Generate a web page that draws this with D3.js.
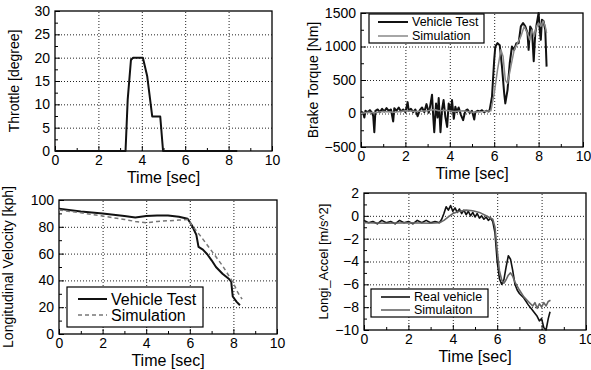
<!DOCTYPE html>
<html>
<head>
<meta charset="utf-8">
<script src="https://cdn.jsdelivr.net/npm/d3@7"></script>
<style>
  body { margin: 0; background: #fff; }
  svg { font-family: "Liberation Sans", Arial, sans-serif; }
</style>
</head>
<body>
<svg id="chart" width="591" height="370"></svg>
<script>
// tick values
const timeTicks = [0, 2, 4, 6, 8, 10];
const throttleTicks = [0, 5, 10, 15, 20, 25, 30];
const brakeTicks = [-500, 0, 500, 1000, 1500];
const velTicks = [0, 20, 40, 60, 80, 100];
const accelTicks = [-10, -8, -6, -4, -2, 0, 2];

// throttle [deg] vs time
const throttle = [[0, 0], [3.25, 0], [3.35, 11], [3.5, 19.5], [3.6, 20], [4.05, 20], [4.25, 16], [4.48, 7.4], [4.85, 7.4], [4.98, 0], [8.4, 0]];

// brake torque [Nm]
const brakeTest = [[0, 30], [0.1, 10], [0.15, -60], [0.2, 40], [0.3, 20], [0.4, 50], [0.5, 10], [0.55, -40], [0.6, -280], [0.65, 40],
  [0.75, 60], [0.85, 20], [0.95, 70], [1.05, 30], [1.15, 80], [1.25, 40], [1.35, 60], [1.45, -120], [1.5, 80], [1.6, 40],
  [1.7, 90], [1.8, 30], [1.9, 60], [2.0, 20], [2.1, 170], [2.15, 40], [2.25, 70], [2.35, 20], [2.45, 60], [2.55, -40],
  [2.65, 50], [2.75, 90], [2.85, 20], [2.95, 140], [3.05, 10], [3.1, 80], [3.2, 280], [3.25, -30], [3.3, -280], [3.38, 150],
  [3.45, -60], [3.5, 230], [3.58, -280], [3.65, 60], [3.72, 200], [3.8, -50], [3.88, -200], [3.95, 150], [4.05, 30], [4.1, 200],
  [4.18, -80], [4.25, 100], [4.32, 20], [4.4, 90], [4.5, -20], [4.6, -100], [4.7, 40], [4.8, 60], [4.9, 10], [5.0, 40],
  [5.1, -90], [5.15, 20], [5.25, 40], [5.35, 30], [5.45, 50], [5.55, 20], [5.65, 40], [5.75, 30], [5.8, 60], [5.9, 250],
  [6.0, 800], [6.05, 1000], [6.15, 1050], [6.25, 1020], [6.35, 700], [6.45, 300], [6.5, 150], [6.6, 350], [6.7, 750], [6.8, 1000],
  [6.9, 950], [7.0, 1050], [7.1, 1050], [7.2, 1300], [7.3, 1350], [7.4, 1300], [7.5, 1200], [7.55, 950], [7.62, 1300], [7.7, 1250],
  [7.78, 780], [7.85, 1200], [7.92, 1350], [8.0, 1500], [8.05, 1250], [8.1, 1100], [8.15, 1400], [8.22, 1380], [8.3, 1250], [8.36, 700]];
const brakeSim = [[0, 0], [0.3, 20], [0.6, 10], [1, 30], [1.5, 20], [2, 40], [2.5, 30], [3, 40], [3.3, 60], [3.5, 40], [3.8, 50],
  [4.2, 30], [4.6, 40], [5, 20], [5.5, 30], [5.85, 40], [6.0, 300], [6.15, 650], [6.3, 950], [6.4, 850], [6.5, 500], [6.6, 450],
  [6.75, 700], [6.9, 950], [7.05, 1050], [7.2, 1150], [7.35, 1300], [7.5, 1200], [7.6, 1100], [7.7, 1250], [7.8, 1150], [7.9, 1300],
  [8.0, 1350], [8.1, 1300], [8.2, 1380], [8.3, 1300], [8.36, 1200]];

// longitudinal velocity [kph]
const velTest = [[0, 93.5], [1, 91.5], [2, 90], [3, 88], [3.5, 87], [4, 88], [4.5, 88.5], [5, 88.5], [5.5, 87.5], [5.9, 86],
  [6.1, 81], [6.3, 74], [6.4, 65], [6.6, 63], [6.8, 59.5], [7.0, 55], [7.2, 50], [7.5, 45], [7.8, 41], [7.9, 39], [7.97, 28],
  [8.15, 24], [8.3, 21.5]];
const velSim = [[0, 92.5], [1, 90.5], [2, 88], [3, 85.5], [3.5, 84], [4, 83], [4.5, 84], [5, 84.5], [5.5, 85], [5.9, 85.5],
  [6.2, 79], [6.5, 73], [7.0, 62], [7.5, 51], [8.0, 38], [8.2, 31], [8.4, 26]];

// longitudinal acceleration [m/s^2]
const accelReal = [[0, -0.4], [0.2, -0.6], [0.4, -0.5], [0.6, -0.7], [0.8, -0.4], [1.0, -0.6], [1.2, -0.5], [1.4, -0.7], [1.6, -0.4],
  [1.8, -0.6], [2.0, -0.5], [2.2, -0.7], [2.4, -0.4], [2.6, -0.6], [2.8, -0.4], [3.0, -0.6], [3.2, -0.5], [3.4, -0.6], [3.5, -0.3],
  [3.6, 0.2], [3.7, 0.8], [3.8, 0.5], [3.9, 0.9], [4.0, 0.4], [4.1, 0.7], [4.2, 0.3], [4.3, 0.6], [4.4, 0.2], [4.5, 0.5],
  [4.6, 0.1], [4.7, 0.4], [4.8, 0.0], [4.9, 0.3], [5.0, -0.1], [5.1, 0.2], [5.2, -0.2], [5.3, 0.0], [5.4, -0.3], [5.5, -0.1],
  [5.6, -0.4], [5.7, -0.2], [5.8, -0.5], [5.9, -1.5], [6.0, -4.0], [6.1, -5.5], [6.2, -6.0], [6.3, -5.6], [6.4, -4.5],
  [6.5, -3.5], [6.6, -3.8], [6.7, -4.8], [6.8, -6.0], [6.9, -6.5], [7.0, -6.8], [7.2, -7.2], [7.4, -7.8], [7.6, -8.3],
  [7.8, -8.8], [7.9, -9.2], [8.0, -9.0], [8.1, -9.8], [8.2, -10], [8.3, -9.0], [8.38, -8.4]];
const accelSim = [[0, -0.6], [1, -0.65], [2, -0.6], [3, -0.65], [3.4, -0.6], [3.6, -0.4], [3.8, -0.1], [4.0, 0.2], [4.3, 0.4],
  [4.6, 0.5], [4.9, 0.45], [5.2, 0.3], [5.5, 0.0], [5.8, -0.3], [5.9, -1.0], [6.0, -3.0], [6.1, -4.8], [6.2, -5.6], [6.3, -5.9],
  [6.4, -5.6], [6.5, -5.2], [6.6, -5.0], [6.7, -5.3], [6.8, -5.8], [7.0, -6.5], [7.2, -7.1], [7.4, -7.5], [7.6, -7.9],
  [7.7, -7.6], [7.8, -8.1], [7.9, -7.7], [8.0, -8.0], [8.1, -7.6], [8.2, -7.9], [8.3, -7.5], [8.4, -7.4]];

const svg = d3.select('#chart');

function panel(cfg) {
  const x = d3.scaleLinear().domain([0, 10]).range([cfg.left, cfg.right]);
  const y = d3.scaleLinear().domain(cfg.yDomain).range([cfg.bottom, cfg.top]);
  const g = svg.append('g');

  // dotted grid, drawn as axes with full-length ticks
  const gridX = d3.axisBottom(x).tickValues(timeTicks.slice(1, -1)).tickSize(-(cfg.bottom - cfg.top)).tickFormat('');
  const gridY = d3.axisLeft(y).tickValues(cfg.yTicks.slice(1, -1)).tickSize(-(cfg.right - cfg.left)).tickFormat('');
  g.append('g').attr('transform', `translate(0,${cfg.bottom})`).call(gridX);
  g.append('g').attr('transform', `translate(${cfg.left},0)`).call(gridY);
  g.selectAll('.domain').remove();
  g.selectAll('.tick line')
    .attr('stroke', '#222')
    .attr('stroke-width', 1)
    .attr('stroke-dasharray', '1,2');

  // axes with inward ticks
  const xAxis = d3.axisBottom(x).tickValues(timeTicks).tickSize(-5).tickPadding(4).tickFormat(d3.format('d'));
  const yAxis = d3.axisLeft(y).tickValues(cfg.yTicks).tickSize(-5).tickPadding(5).tickFormat(d3.format('d'));
  const xMinor = d3.axisBottom(x).tickValues(d3.range(1, 10, 2)).tickSize(-3).tickFormat('');
  const yMinor = d3.axisLeft(y).tickValues(cfg.yMinor).tickSize(-3).tickFormat('');

  [[xAxis, 'b'], [xMinor, 'b'], [yAxis, 'l'], [yMinor, 'l']].forEach(([ax, side]) => {
    const a = g.append('g')
      .attr('transform', side === 'b' ? `translate(0,${cfg.bottom})` : `translate(${cfg.left},0)`)
      .call(ax);
    a.select('.domain').remove();
    a.selectAll('text').style('font-size', '14px').attr('fill', '#000');
    a.selectAll('line').attr('stroke', '#000');
  });

  g.append('rect')
    .attr('x', cfg.left).attr('y', cfg.top)
    .attr('width', cfg.right - cfg.left).attr('height', cfg.bottom - cfg.top)
    .attr('fill', 'none').attr('stroke', '#000').attr('stroke-width', 1.3);

  const line = d3.line().x(d => x(d[0])).y(d => y(d[1]));
  cfg.series.forEach(s => {
    g.append('path').datum(s.data)
      .attr('d', line)
      .attr('fill', 'none')
      .attr('stroke', s.color)
      .attr('stroke-width', s.width)
      .attr('stroke-dasharray', s.dash || null)
      .attr('stroke-linejoin', 'round');
  });

  g.append('text')
    .attr('x', (cfg.left + cfg.right) / 2).attr('y', cfg.bottom + 32)
    .attr('text-anchor', 'middle').style('font-size', '16px')
    .text('Time [sec]');
  g.append('text')
    .attr('transform', `translate(${cfg.ytX},${(cfg.top + cfg.bottom) / 2}) rotate(-90)`)
    .attr('text-anchor', 'middle').attr('dominant-baseline', 'central')
    .style('font-size', cfg.ytSize)
    .text(cfg.yTitle);

  if (cfg.legend) {
    const L = cfg.legend;
    g.append('rect')
      .attr('x', L.x).attr('y', L.y).attr('width', L.w).attr('height', L.h)
      .attr('fill', '#fff').attr('stroke', '#000').attr('stroke-width', 1.2);
    cfg.series.forEach((s, i) => {
      const ly = L.y + L.rows[i];
      g.append('line')
        .attr('x1', L.x + L.lx0).attr('x2', L.x + L.lx1)
        .attr('y1', ly).attr('y2', ly)
        .attr('stroke', s.color).attr('stroke-width', s.width)
        .attr('stroke-dasharray', s.dash || null);
      g.append('text')
        .attr('x', L.x + L.tx).attr('y', ly)
        .attr('dominant-baseline', 'central')
        .style('font-size', L.size)
        .text(s.name);
    });
  }
}

panel({
  left: 55, right: 272, top: 11, bottom: 151,
  yDomain: [0, 30], yTicks: throttleTicks, yMinor: d3.range(2.5, 30, 5),
  yTitle: 'Throttle [degree]', ytX: 14, ytSize: '14px',
  series: [{ data: throttle, color: '#111', width: 2 }]
});

panel({
  left: 361, right: 583, top: 13, bottom: 147,
  yDomain: [-500, 1500], yTicks: brakeTicks, yMinor: d3.range(-250, 1500, 500),
  yTitle: 'Brake Torque [Nm]', ytX: 313, ytSize: '14px',
  series: [
    { name: 'Vehicle Test', data: brakeTest, color: '#111', width: 2 },
    { name: 'Simulation', data: brakeSim, color: '#888', width: 1.5 }
  ],
  legend: { x: 369, y: 14, w: 115, h: 29, rows: [8, 22], lx0: 9, lx1: 39, tx: 43, size: '12.5px' }
});

panel({
  left: 59, right: 277, top: 200, bottom: 334,
  yDomain: [0, 100], yTicks: velTicks, yMinor: d3.range(10, 100, 20),
  yTitle: 'Longitudinal Velocity [kph]', ytX: 8, ytSize: '14px',
  series: [
    { name: 'Vehicle Test', data: velTest, color: '#111', width: 2 },
    { name: 'Simulation', data: velSim, color: '#777', width: 1.5, dash: '4,3' }
  ],
  legend: { x: 67, y: 287, w: 136, h: 40, rows: [12, 28], lx0: 11, lx1: 40, tx: 44, size: '16px' }
});

panel({
  left: 364, right: 586, top: 193, bottom: 330,
  yDomain: [-10, 2], yTicks: accelTicks, yMinor: d3.range(-9, 2, 2),
  yTitle: 'Longi_Accel [m/s^2]', ytX: 323, ytSize: '13px',
  series: [
    { name: 'Real vehicle', data: accelReal, color: '#111', width: 1.6 },
    { name: 'Simulaiton', data: accelSim, color: '#666', width: 1.6 }
  ],
  legend: { x: 371, y: 289, w: 117, h: 28, rows: [8, 21], lx0: 10, lx1: 39, tx: 43, size: '12.5px' }
});
</script>
</body>
</html>
